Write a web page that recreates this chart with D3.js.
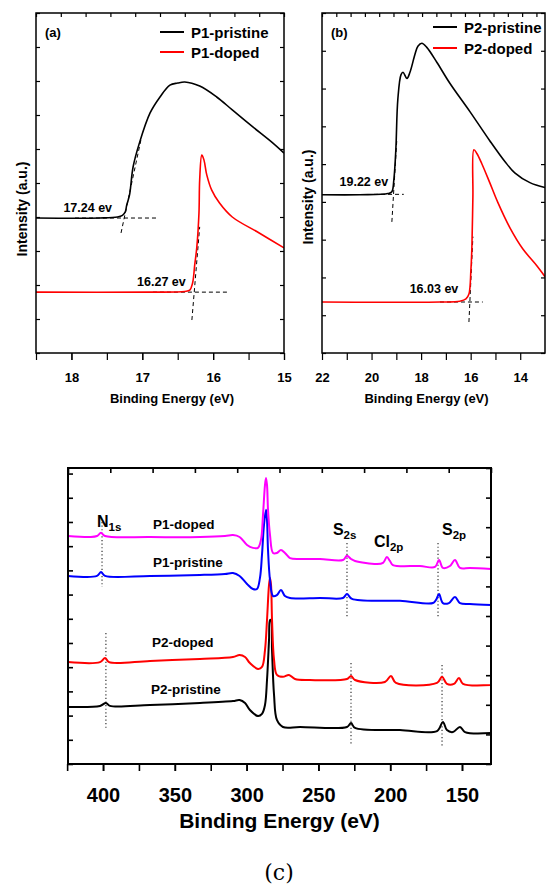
<!DOCTYPE html>
<html><head><meta charset="utf-8">
<script src="https://cdn.jsdelivr.net/npm/d3@7"></script>
<style>
body{margin:0;background:#fff}
svg{display:block}
text{font-family:"Liberation Sans",Arial,Helvetica,sans-serif;font-weight:bold;fill:#000}
</style>
</head><body>
<svg id="fig" width="546" height="891"></svg>
<script>
// ---------------- DATA ----------------
// Panel (a): UPS cutoff of P1, [binding energy eV, intensity a.u.]
const ticksA = [18, 17, 16, 15];
const p1Pristine = [[18.5,3.97],[17.6,3.97],[17.35,4.0],[17.28,4.05],[17.24,4.15],[17.22,4.35],[17.18,4.65],[17.13,5.47],[17.04,6.18],[16.89,7.06],[16.75,7.53],[16.61,7.88],[16.5,7.94],[16.40,7.97],[16.19,7.85],[15.95,7.53],[15.73,7.15],[15.44,6.65],[15.16,6.18],[15.0,5.88]];
const p1Doped = [[18.5,1.79],[16.89,1.79],[16.40,1.81],[16.33,1.85],[16.29,2.06],[16.26,2.59],[16.23,3.12],[16.20,4.12],[16.19,5.09],[16.16,5.82],[16.13,5.68],[16.09,5.24],[16.02,4.79],[15.91,4.41],[15.73,4.0],[15.35,3.53],[15.0,3.09]];
const onsetA = [[[17.95,3.97],[16.78,3.97]],[[17.30,3.53],[17.02,6.26]],[[16.85,1.79],[15.78,1.79]],[[16.30,0.97],[16.19,3.71]]];
const onsetLabelsA = [["17.24 ev",17.77,4.15],["16.27 ev",16.73,1.97]];

// Panel (b): UPS cutoff of P2
const ticksB = [22, 20, 18, 16, 14];
const p2Pristine = [[22.0,4.19],[20.47,4.19],[19.34,4.22],[19.18,4.27],[19.10,4.59],[19.02,5.38],[18.94,6.71],[18.81,7.37],[18.73,7.43],[18.57,7.27],[18.45,7.43],[18.25,7.90],[18.13,8.12],[17.97,8.20],[17.77,8.09],[17.36,7.69],[16.84,7.14],[16.03,6.39],[15.23,5.62],[14.62,5.07],[14.22,4.77],[13.61,4.51],[13.0,4.38]];
const p2Doped = [[22.0,1.35],[17.24,1.35],[16.44,1.37],[16.19,1.43],[16.07,1.56],[15.99,2.20],[15.95,2.81],[15.91,4.14],[15.87,5.38],[15.75,5.28],[15.55,5.01],[15.23,4.51],[14.90,3.98],[14.42,3.32],[13.90,2.76],[13.33,2.31],[13.0,2.02]];
const onsetB = [[[19.9,4.2],[18.7,4.2]],[[19.18,3.47],[18.98,5.65]],[[17.24,1.35],[15.51,1.35]],[[16.07,0.82],[15.91,3.08]]];
const onsetLabelsB = [["19.22 ev",20.31,4.43],["16.03 ev",17.48,1.59]];

// Panel (c): XPS survey spectra
const ticksC = [400, 350, 300, 250, 200, 150];
const xpsP1Doped = [[424.4,9.42],[409.1,9.38],[404.2,9.42],[401.4,9.55],[398.6,9.42],[367.3,9.38],[332.5,9.38],[315.1,9.42],[309.5,9.46],[304.9,9.38],[299.7,9.05],[295.6,8.93],[292.1,8.93],[290.0,9.26],[288.6,10.29],[287.2,11.53],[286.5,11.82],[285.8,11.53],[285.1,10.50],[283.7,9.46],[281.6,8.72],[278.9,8.72],[276.1,8.84],[273.3,8.72],[269.8,8.51],[262.8,8.47],[248.9,8.47],[232.9,8.43],[230.1,8.60],[227.3,8.47],[224.5,8.39],[209.2,8.26],[205.0,8.31],[202.3,8.55],[200.2,8.39],[198.1,8.22],[179.3,8.18],[168.8,8.14],[166.0,8.43],[163.3,8.10],[158.4,8.18],[154.9,8.43],[151.4,8.10],[144.5,8.10],[129.8,8.06]];
const xpsP1Pristine = [[424.4,7.77],[404.2,7.77],[401.4,7.93],[398.6,7.77],[367.3,7.77],[332.5,7.81],[315.1,7.85],[309.5,7.89],[304.9,7.77],[299.7,7.44],[295.6,7.23],[292.8,7.23],[290.7,7.69],[289.3,8.64],[287.9,9.88],[286.5,10.50],[285.8,10.08],[285.1,8.84],[283.7,7.60],[281.6,6.94],[278.9,6.98],[276.1,7.19],[273.3,6.94],[269.8,6.86],[248.9,6.86],[232.9,6.86],[230.1,7.02],[226.6,6.82],[193.2,6.74],[170.2,6.65],[168.1,6.78],[166.0,7.02],[163.3,6.65],[159.1,6.65],[154.9,6.90],[151.4,6.65],[144.5,6.61],[129.8,6.57]];
const xpsP2Doped = [[424.4,4.21],[402.1,4.21],[398.6,4.38],[395.8,4.21],[367.3,4.26],[332.5,4.34],[309.5,4.42],[304.9,4.50],[301.1,4.42],[297.7,4.17],[292.1,3.93],[289.3,4.01],[287.2,4.71],[285.8,5.95],[284.4,7.40],[283.7,7.69],[283.0,7.40],[282.3,5.95],[280.9,4.30],[278.9,3.68],[274.7,3.60],[270.5,3.68],[266.3,3.51],[255.9,3.47],[230.1,3.51],[227.3,3.64],[224.5,3.47],[203.7,3.39],[199.5,3.64],[196.0,3.35],[167.4,3.35],[163.9,3.60],[160.5,3.31],[155.6,3.31],[152.1,3.55],[149.3,3.31],[129.8,3.26]];
const xpsP2Pristine = [[424.4,2.36],[402.1,2.40],[398.0,2.52],[395.2,2.40],[367.3,2.44],[332.5,2.52],[309.5,2.60],[304.9,2.64],[301.1,2.52],[297.7,2.23],[292.1,1.98],[289.3,2.07],[287.2,2.44],[285.8,3.47],[284.4,5.12],[283.7,5.95],[283.0,5.95],[282.3,4.71],[280.9,2.85],[278.9,1.82],[274.7,1.53],[262.8,1.53],[230.1,1.53],[227.3,1.69],[224.5,1.49],[193.2,1.40],[167.4,1.36],[163.3,1.74],[160.5,1.40],[156.3,1.32],[151.4,1.53],[147.9,1.32],[129.8,1.28]];
const peakMarksC = [[400.7,10.0,7.31],[230.1,9.13,6.03],[166.7,9.13,6.03],[398.0,5.41,1.45],[227.3,4.17,0.79],[163.9,4.09,0.74]];
const peakLabelsC = [["N","1s",404.2,9.79],["S","2s",239.9,9.46],["Cl","2p",211.3,8.97],["S","2p",163.9,9.46]];
const seriesLabelsC = [["P1-doped",365.2,9.71],["P1-pristine",365.2,8.14],["P2-doped",365.9,4.83],["P2-pristine",366.6,2.89]];

// ---------------- DRAW ----------------
const svg = d3.select("#fig");

function ticksPanel(g, x, y, o) {
  const [x0,x1] = x.range(), [y0,y1] = y.range();
  g.append("g").attr("transform",`translate(0,${y0})`)
    .call(d3.axisBottom(x).tickValues(o.minor).tickSize(o.tlen).tickFormat(""))
    .call(s=>s.select(".domain").remove())
    .call(s=>s.selectAll("line").attr("stroke-width",o.tw));
  g.append("g").attr("transform",`translate(0,${y0})`)
    .call(d3.axisBottom(x).tickValues(o.major).tickSize(o.tlen).tickPadding(o.pad).tickFormat(d3.format("d")))
    .call(s=>s.select(".domain").remove())
    .call(s=>s.selectAll("line").attr("stroke-width",o.tw))
    .call(s=>s.selectAll("text").style("font-size",o.fs+"px").attr("fill","#000"));
  g.append("g").attr("transform",`translate(${x0},0)`)
    .call(d3.axisRight(y).tickValues(o.leftT).tickSize(o.tin).tickFormat(""))
    .call(s=>s.select(".domain").remove())
    .call(s=>s.selectAll("line").attr("stroke-width",o.tw));
  g.append("g").attr("transform",`translate(${x1},0)`)
    .call(d3.axisLeft(y).tickValues(o.rightT).tickSize(o.tin).tickFormat(""))
    .call(s=>s.select(".domain").remove())
    .call(s=>s.selectAll("line").attr("stroke-width",o.tw));
  const top = d3.scaleLinear().domain([0,o.topN]).range([x0, x0 + (x1-x0)*o.topN/o.topSpan]);
  g.append("g").attr("transform",`translate(0,${y1})`)
    .call(d3.axisBottom(top).tickValues(d3.range(0,o.topN+0.001,1).filter(v=>top(v)<=x1+0.5)).tickSize(o.tin).tickFormat(""))
    .call(s=>s.select(".domain").remove())
    .call(s=>s.selectAll("line").attr("stroke-width",o.tw));
  g.append("rect").attr("x",x0).attr("y",y1).attr("width",x1-x0).attr("height",y0-y1)
    .attr("fill","none").attr("stroke","#000").attr("stroke-width",o.fw);
}

function upsPanel(o) {
  const g = svg.append("g");
  const x = d3.scaleLinear().domain(o.xdom).range([o.l,o.r]);
  const y = d3.scaleLinear().domain(o.ydom).range([o.b,o.t]);
  const line = d3.line().x(d=>x(d[0])).y(d=>y(d[1])).curve(d3.curveCatmullRom.alpha(0.5));
  const clip = "clip"+o.id;
  svg.append("clipPath").attr("id",clip).append("rect").attr("x",o.l).attr("y",o.t).attr("width",o.r-o.l).attr("height",o.b-o.t);
  const pg = g.append("g").attr("clip-path",`url(#${clip})`);
  pg.selectAll(".onset").data(o.onset).join("line")
    .attr("x1",d=>x(d[0][0])).attr("y1",d=>y(d[0][1])).attr("x2",d=>x(d[1][0])).attr("y2",d=>y(d[1][1]))
    .attr("stroke","#000").attr("stroke-width",1).attr("stroke-dasharray","4,3");
  pg.append("path").datum(o.pristine).attr("d",line).attr("fill","none").attr("stroke","#000").attr("stroke-width",1.6);
  pg.append("path").datum(o.doped).attr("d",line).attr("fill","none").attr("stroke","#ff0000").attr("stroke-width",1.6);
  ticksPanel(g, x, y, {major:o.major, minor:o.minor, leftT:d3.range(o.ydom[0],o.ydom[1]+0.001,1), rightT:d3.range(o.ydom[0],o.ydom[1]+0.001,1),
    topN:o.topN, topSpan:o.topSpan, tlen:7, tin:4, pad:13, fs:13, tw:1.2, fw:1.5});
  g.selectAll(".ol").data(o.labels).join("text")
    .attr("x",d=>x(d[1])).attr("y",d=>y(d[2])).attr("text-anchor","middle").style("font-size","12.5px").text(d=>d[0]);
  g.append("text").attr("x",o.l+9).attr("y",o.lettY).style("font-size","13px").text(o.letter);
  const lg = g.append("g");
  [[o.names[0],"#000",o.legY[0]],[o.names[1],"#ff0000",o.legY[1]]].forEach(([n,c,yy])=>{
    lg.append("line").attr("x1",o.legX).attr("x2",o.legX+24).attr("y1",yy).attr("y2",yy).attr("stroke",c).attr("stroke-width",2);
    lg.append("text").attr("x",o.legX+31).attr("y",yy+5.5).style("font-size","15px").text(n);
  });
  g.append("text").attr("x",(o.l+o.r)/2+o.titleDx).attr("y",403).attr("text-anchor","middle").style("font-size","13px").text("Binding Energy (eV)");
  g.append("text").attr("transform",`translate(${o.yTitleX},${o.yTitleY}) rotate(-90)`).attr("text-anchor","middle").style("font-size","14px").text("Intensity (a.u.)");
}

const halfA = d3.range(18.5, 14.99, -0.5);
upsPanel({id:"a", l:36, r:284, t:13, b:353, xdom:[18.5,15], ydom:[0,10], pristine:p1Pristine, doped:p1Doped,
  onset:onsetA, labels:onsetLabelsA, major:ticksA, minor:halfA, topN:10, topSpan:10,
  letter:"(a)", lettY:37, names:["P1-pristine","P1-doped"], legX:160, legY:[32,52], titleDx:12, yTitleX:27, yTitleY:209});

const oddB = d3.range(21, 13, -2);
upsPanel({id:"b", l:322, r:545, t:13, b:353, xdom:[22,13], ydom:[0,9], pristine:p2Pristine, doped:p2Doped,
  onset:onsetB, labels:onsetLabelsB, major:ticksB, minor:oddB, topN:16, topSpan:15.6,
  letter:"(b)", lettY:37, names:["P2-pristine","P2-doped"], legX:433, legY:[27,48], titleDx:-7, yTitleX:313, yTitleY:197});

// Panel (c)
(function(){
  const l=68, r=491, t=468, b=764;
  const g = svg.append("g");
  const x = d3.scaleLinear().domain([424.4,129.8]).range([l,r]);
  const y = d3.scaleLinear().domain([0,12.23]).range([b,t]);
  const line = d3.line().x(d=>x(d[0])).y(d=>y(d[1])).curve(d3.curveCatmullRom.alpha(0.5));
  g.selectAll(".pm").data(peakMarksC).join("line")
    .attr("x1",d=>x(d[0])).attr("x2",d=>x(d[0])).attr("y1",d=>y(d[1])).attr("y2",d=>y(d[2]))
    .attr("stroke","#333").attr("stroke-width",1.2).attr("stroke-dasharray","1.2,2.4");
  [[xpsP2Pristine,"#000"],[xpsP2Doped,"#ff0000"],[xpsP1Pristine,"#0000ff"],[xpsP1Doped,"#ff00ff"]].forEach(([d,c])=>{
    g.append("path").datum(d).attr("d",line).attr("fill","none").attr("stroke",c).attr("stroke-width",2);
  });
  ticksPanel(g, x, y, {major:ticksC, minor:d3.range(425,129,-25), leftT:d3.range(0,12.01,1), rightT:d3.range(0,11).map(i=>i*1.223),
    topN:10, topSpan:10, tlen:7, tin:5, pad:17, fs:20, tw:1.6, fw:2});
  g.selectAll(".sl").data(seriesLabelsC).join("text")
    .attr("x",d=>x(d[1])).attr("y",d=>y(d[2])).style("font-size","13.5px").text(d=>d[0]);
  const pl = g.selectAll(".plab").data(peakLabelsC).join("text")
    .attr("x",d=>x(d[2])).attr("y",d=>y(d[3])).style("font-size","16px");
  pl.append("tspan").text(d=>d[0]);
  pl.append("tspan").attr("dy",4).style("font-size","11.5px").text(d=>d[1]);
  g.append("text").attr("x",(l+r)/2).attr("y",828).attr("text-anchor","middle").style("font-size","21px").text("Binding Energy (eV)");
  svg.append("text").attr("x",279).attr("y",880).attr("text-anchor","middle")
    .style("font-family","'DejaVu Serif','Liberation Serif',serif").style("font-weight","normal").style("font-size","22px").text("(c)");
})();
</script>
</body></html>
